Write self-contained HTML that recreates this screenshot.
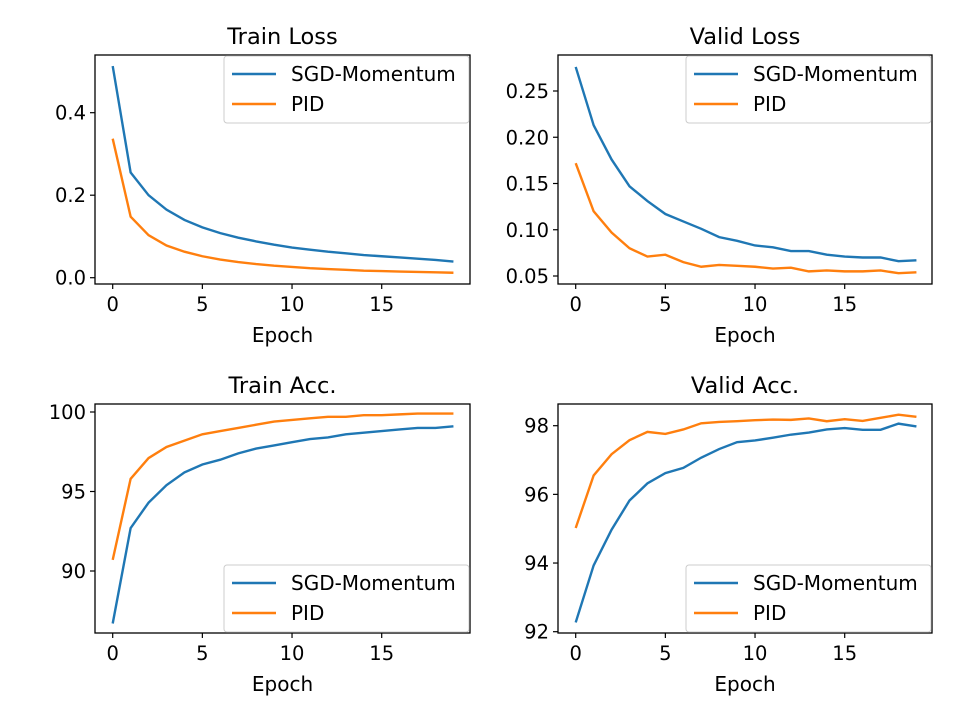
<!DOCTYPE html>
<html><head><meta charset="utf-8"><style>
body{margin:0;background:#fff}
svg{display:block;font-family:"DejaVu Sans","Liberation Sans",sans-serif}
</style></head><body>
<svg id="fig" width="960" height="720" viewBox="0 0 960 720" xmlns="http://www.w3.org/2000/svg"></svg>
<script>
const epochs=[0,1,2,3,4,5,6,7,8,9,10,11,12,13,14,15,16,17,18,19];
const seriesNames=["SGD-Momentum","PID"];
const trainLossSGD=[.513,.255,.200,.165,.140,.122,.108,.097,.088,.080,.073,.068,.063,.059,.055,.052,.049,.046,.043,.039];
const trainLossPID=[.337,.148,.103,.078,.063,.052,.044,.038,.033,.029,.026,.023,.021,.019,.017,.016,.015,.014,.013,.012];
const validLossSGD=[.276,.213,.176,.147,.131,.117,.109,.101,.092,.088,.083,.081,.077,.077,.073,.071,.070,.070,.066,.067];
const validLossPID=[.172,.120,.097,.080,.071,.073,.065,.060,.062,.061,.060,.058,.059,.055,.056,.055,.055,.056,.053,.054];
const trainAccSGD=[86.7,92.7,94.3,95.4,96.2,96.7,97.0,97.4,97.7,97.9,98.1,98.3,98.4,98.6,98.7,98.8,98.9,99.0,99.0,99.1];
const trainAccPID=[90.7,95.8,97.1,97.8,98.2,98.6,98.8,99.0,99.2,99.4,99.5,99.6,99.7,99.7,99.8,99.8,99.85,99.9,99.9,99.9];
const validAccSGD=[92.27,93.93,94.97,95.82,96.32,96.62,96.77,97.07,97.32,97.52,97.57,97.65,97.74,97.80,97.89,97.93,97.88,97.88,98.06,97.98];
const validAccPID=[95.02,96.55,97.17,97.58,97.82,97.76,97.89,98.07,98.11,98.13,98.16,98.18,98.17,98.21,98.13,98.19,98.14,98.23,98.32,98.26];
const xTicks=[0,5,10,15];
const trainLossTicks=[0.0,0.2,0.4];
const validLossTicks=[0.05,0.10,0.15,0.20,0.25];
const trainAccTicks=[90,95,100];
const validAccTicks=[92,94,96,98];

const NS="http://www.w3.org/2000/svg";
const svg=document.getElementById('fig');
function mk(tag,attrs,parent){const e=document.createElementNS(NS,tag);for(const k in attrs)e.setAttribute(k,attrs[k]);(parent||svg).appendChild(e);return e;}
const colors=["#1f77b4","#ff7f0e"];

function panel(cfg){
  const g=mk('g',{});
  
  
  const [L,T,R,B]=cfg.box;
  const xs=v=>112.7+(v-0)*(381.7-112.7)/15+(L-95);
  const ys=v=>cfg.ycal[1]+(v-cfg.ycal[0])*(cfg.ycal[3]-cfg.ycal[1])/(cfg.ycal[2]-cfg.ycal[0]);
  const t=mk('text',{x:(L+R)/2,y:T-11,'text-anchor':'middle','font-size':22.5,fill:'#000'},g);t.textContent=cfg.title;
  
  xTicks.forEach(v=>{const x=xs(v);mk('line',{x1:x,x2:x,y1:B,y2:B+5,stroke:'#000','stroke-width':1.2},g);
    const tx=mk('text',{x:x,y:B+27,'text-anchor':'middle','font-size':19.5},g);tx.textContent=v;
    });
  cfg.yticks.forEach(v=>{const y=ys(v);mk('line',{x1:L-5,x2:L,y1:y,y2:y,stroke:'#000','stroke-width':1.2},g);
    const ty=mk('text',{x:L-9,y:y+7,'text-anchor':'end','font-size':19.5},g);ty.textContent=cfg.fmt(v);
    });
  const xl=mk('text',{x:(L+R)/2,y:B+58,'text-anchor':'middle','font-size':20},g);xl.textContent='Epoch';
  
  cfg.series.forEach((s,i)=>{
    const p=mk('polyline',{points:epochs.map((e,j)=>xs(e)+','+ys(s[j])).join(' '),fill:'none',stroke:colors[i],'stroke-width':2.4},g);
    
  });
  mk('rect',{x:L,y:T,width:R-L,height:B-T,fill:'none',stroke:'#000','stroke-width':1.3},g);
  const lg=mk('g',{},g);
  
  const ly=cfg.legendTop?T+1:B-68;
  mk('rect',{x:R-246,y:ly,width:245,height:67,rx:3,fill:'#fff','fill-opacity':0.85,stroke:'#ccc'},lg);
  seriesNames.forEach((n,i)=>{const y=ly+18+i*30;
    mk('line',{x1:R-238,x2:R-194,y1:y,y2:y,stroke:colors[i],'stroke-width':2.4},lg);
    const lt=mk('text',{x:R-179,y:y+7,'font-size':20},lg);lt.textContent=n;
    });
}
panel({name:'train-loss-panel',title:'Train Loss',box:[95,55,470,284],ycal:[0,277.7,0.4,112.7],yticks:trainLossTicks,fmt:v=>v.toFixed(1),series:[trainLossSGD,trainLossPID],legendTop:true});
panel({name:'valid-loss-panel',title:'Valid Loss',box:[558,55,932,284],ycal:[0.05,276,0.25,91],yticks:validLossTicks,fmt:v=>v.toFixed(2),series:[validLossSGD,validLossPID],legendTop:true});
panel({name:'train-acc-panel',title:'Train Acc.',box:[95,404,470,633],ycal:[90,571,100,412],yticks:trainAccTicks,fmt:v=>v,series:[trainAccSGD,trainAccPID],legendTop:false});
panel({name:'valid-acc-panel',title:'Valid Acc.',box:[558,404,932,633],ycal:[92,631.7,98,425.7],yticks:validAccTicks,fmt:v=>v,series:[validAccSGD,validAccPID],legendTop:false});
</script>
</body></html>
